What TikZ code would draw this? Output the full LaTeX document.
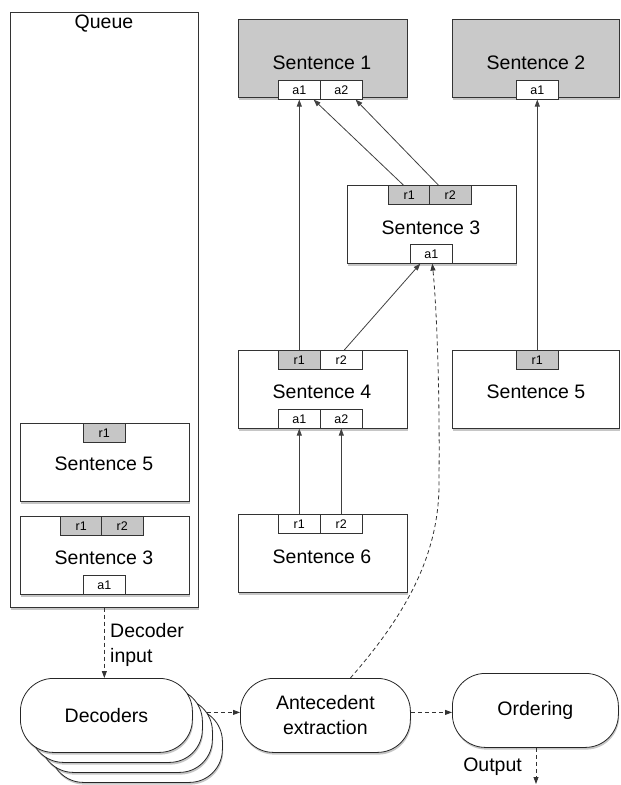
\documentclass[tikz,border=0pt]{standalone}
\usepackage{fontspec}
\setmainfont{Liberation Sans}
\usetikzlibrary{arrows.meta,shadows}
\pgfdeclarelayer{background}
\pgfsetlayers{background,main}
\tikzset{
  shd/.style={drop shadow={shadow xshift=0.8pt,shadow yshift=-2.2pt,opacity=0.45}},
  sbox/.style={draw=black!80, line width=0.7pt, fill=white, inner sep=0pt, anchor=north west,
    minimum width=169pt, minimum height=78pt, shd},
  gbox/.style={sbox, fill=gray!42},
  port/.style={draw=black!80, line width=0.6pt, fill=white, inner sep=0pt, anchor=north west,
    minimum width=42pt, minimum height=19pt, font=\fontsize{12.5}{14}\selectfont},
  gport/.style={port, fill=gray!45},
  stext/.style={font=\fontsize{19.5}{22}\selectfont, inner sep=0pt},
  arr/.style={draw=black!75, line width=0.8pt, -{Triangle[length=7pt,width=5pt]}},
  darr/.style={arr, draw=black!80, dash pattern=on 4pt off 3pt},
  proc/.style={draw=black!85, line width=0.8pt, fill=white, rounded corners=33pt, inner sep=0pt,
    anchor=north west, minimum height=74pt, align=center,
    font=\fontsize{19.5}{25}\selectfont, shd}
}
\begin{document}
\begin{tikzpicture}[x=1pt,y=-1pt]
\useasboundingbox (0,0) rectangle (621,785);

% Queue
\node[sbox, minimum width=188pt, minimum height=595pt] (queue) at (10,12) {};
\node[stext] (queuet) at (104,24) {Queue};
\node[sbox, minimum width=169pt, minimum height=78pt] (q5) at (20,423) {};
\node[gport] (q5r1) at (83,423) {r1};
\node[stext] (q5t) at (104,464) {Sentence 5};
\node[sbox, minimum width=169pt, minimum height=78pt] (q3) at (20,516) {};
\node[gport] (q3r1) at (60,516) {r1};
\node[gport] (q3r2) at (101,516) {r2};
\node[port] (q3a1) at (83,575) {a1};
\node[stext] (q3t) at (104,558) {Sentence 3};

% Sentence 1
\node[gbox] (s1) at (238,19) {};
\node[port] (s1a1) at (278,80) {a1};
\node[port] (s1a2) at (320,80) {a2};
\node[stext] (s1t) at (322,63) {Sentence 1};

% Sentence 2
\node[gbox, minimum width=167pt] (s2) at (452,19) {};
\node[port] (s2a1) at (516,80) {a1};
\node[stext] (s2t) at (536,63) {Sentence 2};

% Sentence 3
\node[sbox] (s3) at (347,185) {};
\node[gport] (s3r1) at (388,185) {r1};
\node[gport] (s3r2) at (429,185) {r2};
\node[port] (s3a1) at (410,244) {a1};
\node[stext] (s3t) at (431,228) {Sentence 3};

% Sentence 4
\node[sbox] (s4) at (238,350) {};
\node[gport] (s4r1) at (278,350) {r1};
\node[port] (s4r2) at (320,350) {r2};
\node[port] (s4a1) at (278,409) {a1};
\node[port] (s4a2) at (320,409) {a2};
\node[stext] (s4t) at (322,392) {Sentence 4};

% Sentence 5
\node[sbox, minimum width=167pt] (s5) at (452,350) {};
\node[gport] (s5r1) at (516,350) {r1};
\node[stext] (s5t) at (536,392) {Sentence 5};

% Sentence 6
\node[sbox] (s6) at (238,514) {};
\node[port] (s6r1) at (278,514) {r1};
\node[port] (s6r2) at (320,514) {r2};
\node[stext] (s6t) at (322,557) {Sentence 6};

% solid arrows
\draw[arr] (s4r1.north) -- (s4r1.north |- s1a1.south);
\draw[arr] ([xshift=-6pt]s3r1.north) -- ([xshift=-7pt]s1a1.south east);
\draw[arr] ([xshift=-12pt]s3r2.north) -- ([xshift=-7pt]s1a2.south east);
\draw[arr] ([xshift=3pt]s4r2.north) -- ([xshift=-11pt]s3a1.south);
\draw[arr] (s5r1.north) -- (s5r1.north |- s2a1.south);
\draw[arr] (s6r1.north) -- (s6r1.north |- s4a1.south);
\draw[arr] (s6r2.north) -- (s6r2.north |- s4a2.south);

% process nodes
\node[proc, minimum width=172pt] (dec3) at (50,708) {};
\node[proc, minimum width=172pt] (dec2) at (40,698) {};
\node[proc, minimum width=172pt] (dec1) at (30,688) {};
\node[proc, minimum width=172pt] (dec) at (20,678) {Decoders};
\node[proc, minimum width=170pt] (ant) at (240,678) {Antecedent\\extraction};
\node[proc, minimum width=166pt] (ord) at (452,673) {Ordering};

% dashed connectors
\begin{pgfonlayer}{background}
\draw[darr] ([yshift=3pt]dec.east) -- ([yshift=3pt]dec.east -| ant.west);
\end{pgfonlayer}
\draw[darr] ([yshift=3pt]ant.east) -- ([yshift=3pt]ant.east -| ord.west);
\draw[darr] (queue.south) -- (queue.south |- dec.north);
\node[font=\fontsize{19.5}{25}\selectfont, anchor=west, align=left, inner sep=0pt] (decin) at (110,645) {Decoder\\input};
\coordinate (outend) at (536,784);
\draw[darr] (ord.south -| outend) -- (outend);
\node[font=\fontsize{19.5}{22}\selectfont, anchor=east, inner sep=0pt] (outt) at (522,767) {Output};
\draw[darr] ([xshift=25pt]ant.north) .. controls (410,610) and (440,550) .. (439,480)
  .. controls (440,380) and (436,300) .. ([xshift=1pt]s3a1.south);
\end{tikzpicture}
\end{document}
